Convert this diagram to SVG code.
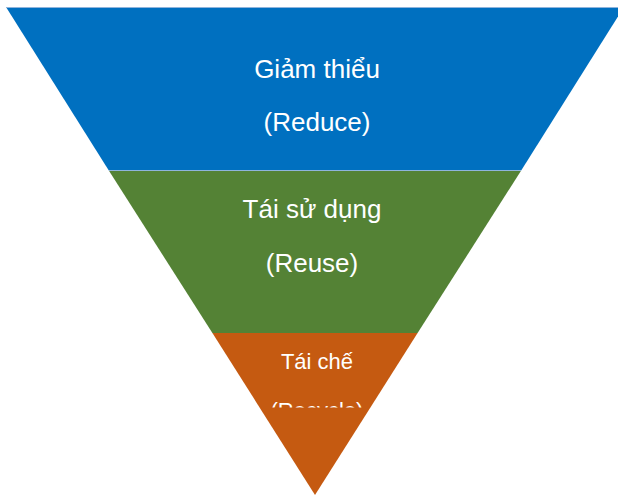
<svg xmlns="http://www.w3.org/2000/svg" width="618" height="497" viewBox="0 0 618 497">
  <defs>
    <style>
      .lbl { font-family: "Liberation Sans", Arial, sans-serif; fill: #ffffff; text-anchor: middle; }
      .big { font-size: 26px; }
      .small { font-size: 22px; }
      .sep { stroke: #8fb4dc; stroke-width: 1; }
    </style>
    <clipPath id="clipOrange">
      <rect x="0" y="333" width="618" height="74.5"/>
    </clipPath>
  </defs>
  <rect width="618" height="497" fill="#ffffff"/>
  <g id="reduce">
    <polygon points="6,7 624,7 521.2,170.5 108.8,170.5" fill="#0070C0"/>
    <text class="lbl big" x="317" y="78">Giảm thiểu</text>
    <text class="lbl big" x="317" y="131">(Reduce)</text>
  </g>
  <g id="reuse">
    <polygon points="108.8,170.5 521.2,170.5 417.6,333 212.4,333" fill="#548235"/>
    <text class="lbl big" x="312" y="218">Tái sử dụng</text>
    <text class="lbl big" x="312" y="272">(Reuse)</text>
  </g>
  <g id="recycle">
    <polygon points="212.4,333 417.6,333 315,495" fill="#C55A11"/>
    <text class="lbl small" x="317" y="369">Tái chế</text>
    <g clip-path="url(#clipOrange)">
      <text class="lbl small" x="317" y="418">(Recycle)</text>
    </g>
  </g>
  <g id="connectors">
    <line class="sep" x1="6" y1="7.5" x2="618" y2="7.5"/>
    <line class="sep" x1="109" y1="170.5" x2="521" y2="170.5"/>
  </g>
</svg>
